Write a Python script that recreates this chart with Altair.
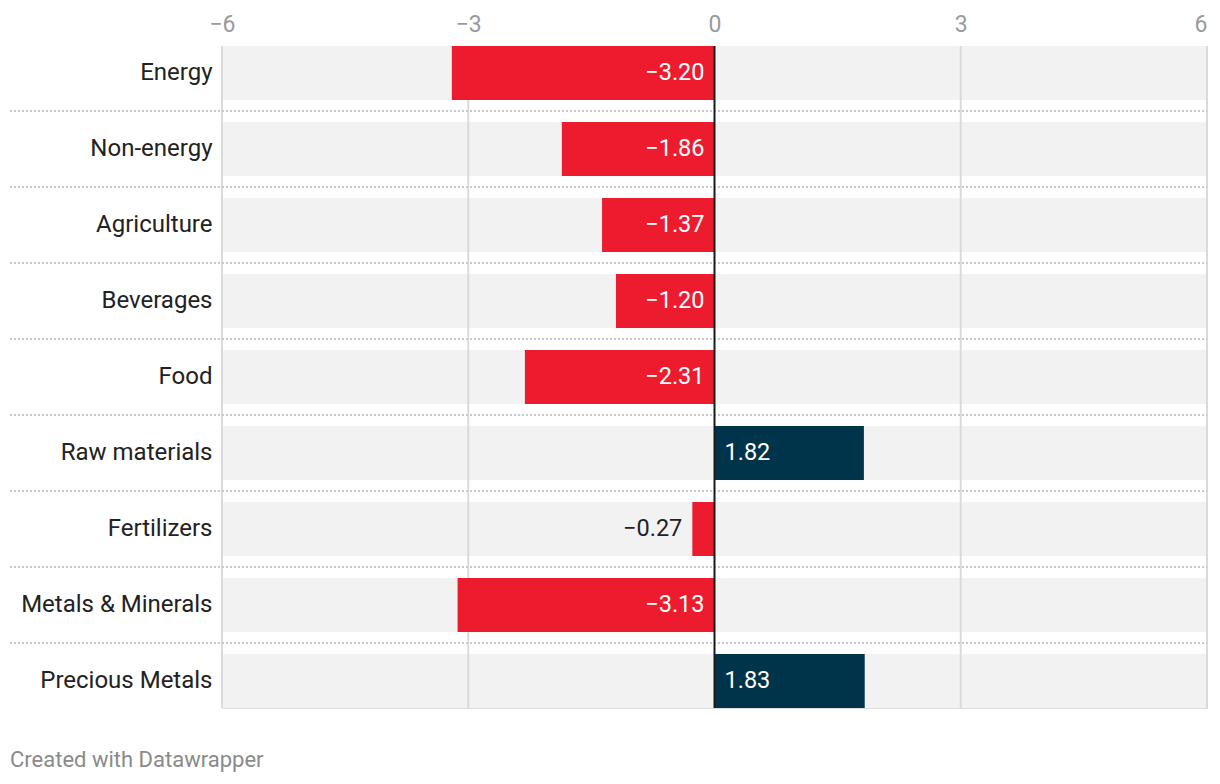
import altair as alt
import pandas as pd

categories = ["Energy", "Non-energy", "Agriculture", "Beverages", "Food",
              "Raw materials", "Fertilizers", "Metals & Minerals", "Precious Metals"]
values = [-3.20, -1.86, -1.37, -1.20, -2.31, 1.82, -0.27, -3.13, 1.83]
x_ticks = [-6, -3, 0, 3, 6]
footer = ["Created with Datawrapper"]

RED = "#ec1c2e"
NAVY = "#00344a"
FONT = "Roboto"
FS = 24

W, H = 985, 662

df = pd.DataFrame({"category": categories, "value": values})
df["lo"] = min(x_ticks)
df["hi"] = max(x_ticks)
df["zero"] = 0
df["kind"] = ["pos" if v >= 0 else ("neg_in" if abs(v) >= 0.6 else "neg_out") for v in values]

ticks_df = pd.DataFrame({"t": [t for t in x_ticks if t != 0]})
zero_df = pd.DataFrame({"t": [0]})
foot_df = pd.DataFrame({"t": footer})

xaxis = alt.Axis(orient="top", values=x_ticks, grid=False, ticks=False, domain=False,
                 labelFont=FONT, labelFontSize=23, labelColor="#9a9a9a",
                 labelBaseline="alphabetic", labelPadding=15,
                 labelAlign={"expr": "datum.value == %d ? 'right' : 'center'" % max(x_ticks)},
                 format="d", title=None)
yaxis = alt.Axis(ticks=False, domain=False, labelFont=FONT, labelFontSize=FS,
                 labelColor="#222222", labelPadding=10, labelLimit=400, title=None)

xscale = alt.Scale(domain=[min(x_ticks), max(x_ticks)], nice=False, zero=False)
yscale = alt.Scale(paddingInner=22 / 76, paddingOuter=0)

Y = alt.Y("category:N", sort=categories, scale=yscale, axis=yaxis)


def X(field):
    return alt.X(field, scale=xscale, axis=xaxis)


base = alt.Chart(df)

bg = base.mark_bar(color="#f2f2f2").encode(x=X("lo:Q"), x2="hi:Q", y=Y)

grid = alt.Chart(ticks_df).mark_rule(color="#dadada", strokeWidth=2).encode(x=X("t:Q"))

sep = alt.Chart(df.iloc[:-1]).mark_rule(color="#c8c8c8", strokeWidth=2, strokeDash=[2, 2], yOffset=11).encode(
    y=alt.Y("category:N", sort=categories, scale=yscale, axis=yaxis, bandPosition=1),
    x=alt.value(-212),
    x2=alt.value(W),
)

bars = base.mark_bar().encode(
    x=X("zero:Q"),
    x2="value:Q",
    y=Y,
    color=alt.condition("datum.value < 0", alt.value(RED), alt.value(NAVY)),
)

zero = alt.Chart(zero_df).mark_rule(color="#1a1a1a", strokeWidth=2).encode(x=X("t:Q"))

txt_common = dict(font=FONT, fontSize=23.5, baseline="middle")

t_neg_in = base.transform_filter("datum.kind == 'neg_in'").mark_text(
    align="right", dx=-10, color="white", **txt_common).encode(
    x=X("zero:Q"), y=Y, text=alt.Text("value:Q", format=".2f"))
t_neg_out = base.transform_filter("datum.kind == 'neg_out'").mark_text(
    align="right", dx=-10, color="#222222", **txt_common).encode(
    x=X("value:Q"), y=Y, text=alt.Text("value:Q", format=".2f"))
t_pos = base.transform_filter("datum.kind == 'pos'").mark_text(
    align="left", dx=10, color="white", **txt_common).encode(
    x=X("zero:Q"), y=Y, text=alt.Text("value:Q", format=".2f"))

foot = alt.Chart(foot_df).mark_text(
    align="left", baseline="middle", font=FONT, fontSize=22, color="#8a8a8a").encode(
    text="t:N", x=alt.value(-212), y=alt.value(H + 52),
)

chart = alt.layer(bg, grid, sep, bars, zero, t_neg_in, t_neg_out, t_pos, foot).properties(
    width=W, height=H,
    autosize=alt.AutoSizeParams(type="none"),
    padding={"left": 214, "top": 38, "right": 5, "bottom": 70},
).configure_view(stroke=None).configure(background="white")

chart.save("out.html", embed_options={"renderer": "svg", "actions": False})
